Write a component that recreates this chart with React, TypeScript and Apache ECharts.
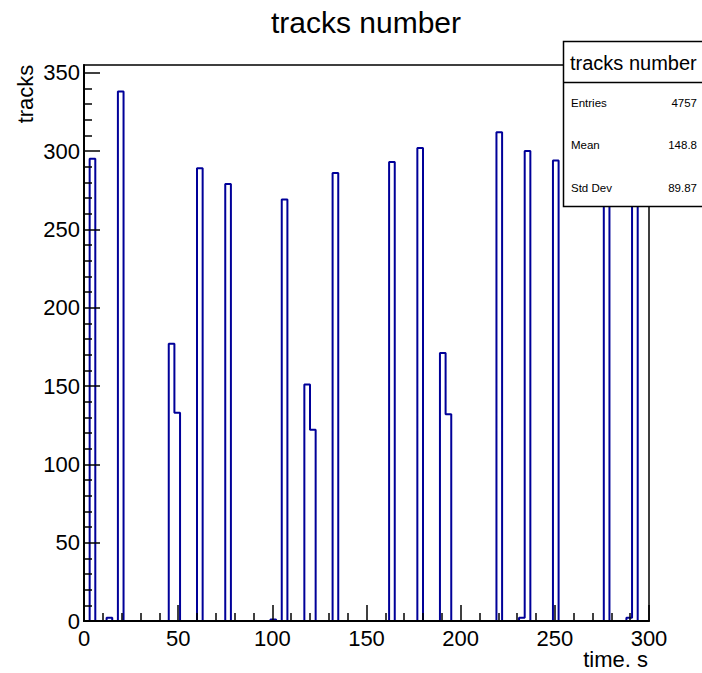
import React, { useEffect, useRef } from "react";
import * as echarts from "echarts";

const TITLE = "tracks number";
const X_TITLE = "time. s";
const Y_TITLE = "tracks";
const BIN_WIDTH = 3;
const X_MIN = 0;
const X_MAX = 300;
const Y_MAX = 354.9;

// non-empty bins: lower edge and content
const filledBinStarts = [3, 12, 18, 45, 48, 60, 75, 99, 105, 117, 120, 132, 162, 177, 189, 192, 219, 231, 234, 249, 276, 288, 291];
const filledBinCounts = [295, 2, 338, 177, 133, 289, 279, 1, 269, 151, 122, 286, 293, 302, 171, 132, 312, 2, 300, 294, 302, 2, 300];

const yMajorTicks = [0, 50, 100, 150, 200, 250, 300, 350];
const yMinorTicks = [10, 20, 30, 40, 60, 70, 80, 90, 110, 120, 130, 140, 160, 170, 180, 190, 210, 220, 230, 240, 260, 270, 280, 290, 310, 320, 330, 340];

const statTitle = "tracks number";
const statLabels = ["Entries", "Mean", "Std Dev"];
const statValues = ["4757", "148.8", "89.87"];

const FONT = "'Liberation Sans', Arial, Helvetica, sans-serif";

export default function App() {
  const ref = useRef<HTMLDivElement>(null);

  useEffect(() => {
    if (!ref.current) return;
    const chart = echarts.init(ref.current, undefined, { renderer: "svg" });

    const nBins = Math.round((X_MAX - X_MIN) / BIN_WIDTH);
    const counts: number[] = new Array(nBins).fill(0);
    filledBinStarts.forEach((s, i) => {
      counts[Math.round((s - X_MIN) / BIN_WIDTH)] = filledBinCounts[i];
    });
    const stepData: number[][] = [[X_MIN, 0]];
    counts.forEach((c, i) => stepData.push([X_MIN + i * BIN_WIDTH, c]));
    stepData.push([X_MAX, 0]);

    const statElements: any[] = [];
    statLabels.forEach((lab, i) => {
      const y = 103 + i * 42.3;
      statElements.push({
        type: "text",
        z: 101,
        style: { text: lab, x: 571, y, fontSize: 11.5, fontFamily: FONT, fill: "#000", align: "left", verticalAlign: "middle" },
      });
      statElements.push({
        type: "text",
        z: 101,
        style: { text: statValues[i], x: 697, y, fontSize: 11.5, fontFamily: FONT, fill: "#000", align: "right", verticalAlign: "middle" },
      });
    });

    const option: any = {
      animation: false,
      backgroundColor: "#fff",
      grid: {
        left: 84,
        right: 53,
        top: 65,
        bottom: 52,
        containLabel: false,
        outerBoundsMode: "none",
        show: true,
        borderColor: "#000",
        borderWidth: 1.5,
        backgroundColor: "transparent",
      },
      xAxis: {
        type: "value",
        min: X_MIN,
        max: X_MAX,
        interval: 50,
        z: 10,
        axisLine: { show: true, onZero: false, lineStyle: { color: "#000", width: 2 } },
        axisTick: { show: true, inside: true, length: 16, lineStyle: { color: "#000", width: 1.5 } },
        minorTick: { show: true, splitNumber: 5, length: 8, lineStyle: { color: "#000", width: 1.5 } },
        axisLabel: { show: true, fontSize: 22, fontFamily: FONT, color: "#000", margin: 6 },
        splitLine: { show: false },
        minorSplitLine: { show: false },
      },
      yAxis: [
        {
          type: "value",
          min: 0,
          max: Y_MAX,
          position: "left",
          offset: 0,
          z: 10,
          axisLine: { show: true, onZero: false, lineStyle: { color: "#000", width: 2 } },
          axisTick: { show: true, inside: true, length: 16, customValues: yMajorTicks, lineStyle: { color: "#000", width: 1.5 } },
          axisLabel: { show: true, fontSize: 22, fontFamily: FONT, color: "#000", margin: 4, customValues: yMajorTicks },
          splitLine: { show: false },
        },
        {
          type: "value",
          min: 0,
          max: Y_MAX,
          position: "left",
          offset: 0,
          z: 10,
          axisLine: { show: false },
          axisTick: { show: true, inside: true, length: 8, customValues: yMinorTicks, lineStyle: { color: "#000", width: 1.5 } },
          axisLabel: { show: false },
          splitLine: { show: false },
        },
      ],
      series: [
        {
          type: "line",
          step: "end",
          data: stepData,
          symbol: "none",
          showSymbol: false,
          z: 2,
          lineStyle: { color: "#000099", width: 2 },
          itemStyle: { color: "#000099" },
          clip: true,
        },
      ],
      graphic: [
        {
          type: "text",
          z: 100,
          style: { text: TITLE, x: 366, y: 22, fontSize: 30, fontFamily: FONT, fill: "#000", align: "center", verticalAlign: "middle" },
        },
        {
          type: "text",
          z: 100,
          x: 25,
          y: 94,
          rotation: Math.PI / 2,
          style: { text: Y_TITLE, x: 0, y: 0, fontSize: 22, fontFamily: FONT, fill: "#000", align: "center", verticalAlign: "middle" },
        },
        {
          type: "text",
          z: 100,
          style: { text: X_TITLE, x: 648, y: 659, fontSize: 22, fontFamily: FONT, fill: "#000", align: "right", verticalAlign: "middle" },
        },
        {
          type: "rect",
          z: 100,
          shape: { x: 563.5, y: 41.5, width: 145, height: 165 },
          style: { fill: "#fff", stroke: "#000", lineWidth: 1.5 },
        },
        {
          type: "line",
          z: 101,
          shape: { x1: 563.5, y1: 82.5, x2: 702, y2: 82.5 },
          style: { stroke: "#000", lineWidth: 1.5 },
        },
        {
          type: "text",
          z: 101,
          style: { text: statTitle, x: 570, y: 63, fontSize: 20, fontFamily: FONT, fill: "#000", align: "left", verticalAlign: "middle" },
        },
        ...statElements,
      ],
    };

    chart.setOption(option);
    return () => chart.dispose();
  }, []);

  return (
    <div
      ref={ref}
      style={{ position: "fixed", left: 0, top: 0, width: 702, height: 673, background: "#fff" }}
    />
  );
}
